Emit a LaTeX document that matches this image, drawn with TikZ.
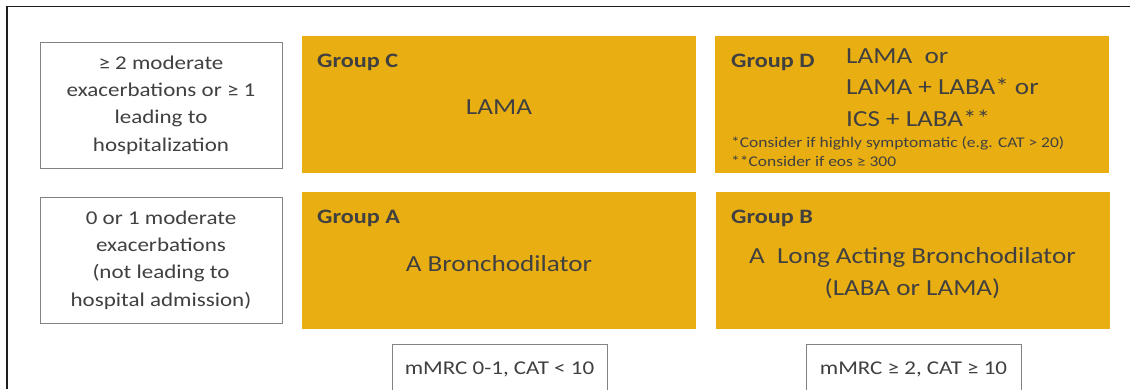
\documentclass[tikz,border=0pt]{standalone}
\usepackage{fontspec}
\setmainfont{Carlito}[FakeStretch=1.18]
\usepackage{tikz}
\usetikzlibrary{positioning}
\definecolor{grpclr}{RGB}{233,175,18}
\definecolor{txtclr}{RGB}{64,64,64}
\definecolor{boxclr}{RGB}{130,130,130}
\definecolor{frameclr}{RGB}{30,30,30}
\tikzset{
    crit/.style={rectangle,draw=boxclr,line width=0.9pt,fill=white,minimum width=242pt,minimum height=126pt,align=center,text=txtclr,inner sep=2pt,font=\fontsize{19.5}{27.3}\selectfont},
    grp/.style={rectangle,fill=grpclr,minimum width=394pt,minimum height=137pt,inner sep=0pt},
    grplbl/.style={anchor=base west,inner sep=0pt,text=txtclr,font=\fontsize{20.5}{24}\selectfont\bfseries},
    drug/.style={inner sep=0pt,text=txtclr,font=\fontsize{23}{31.5}\selectfont},
    note/.style={anchor=base west,inner sep=0pt,text=txtclr,font=\fontsize{14.8}{19}\selectfont},
    sympt/.style={rectangle,draw=boxclr,line width=0.9pt,fill=white,minimum width=215pt,minimum height=50pt,text=txtclr,font=\fontsize{19.5}{24}\selectfont},
}
\begin{document}
\begin{tikzpicture}[x=1pt,y=-1pt]
\useasboundingbox (0,0) rectangle (1130,389);
\clip (0,0) rectangle (1130,389);
% frame
\coordinate (FrTL) at (7,6.5);
\coordinate (FrTR) at (1130,6.5);
\coordinate (FrBL) at (7,389);
\draw[frameclr,line width=1.8pt] (FrTR) -- (FrTL) -- (FrBL);

% exacerbation history (column 1)
\node[crit] (Hi) at (161,105) {≥ 2 moderate\\exacerbations or ≥ 1\\leading to\\hospitalization};
\node[crit] (Lo) at (161,260) {0 or 1 moderate\\exacerbations\\(not leading to\\hospital admission)};

% groups
\node[grp] (C) at (499,104.5) {};
\node[grp] (D) at (912,104.5) {};
\node[grp] (A) at (499,260.5) {};
\node[grp] (B) at (912.5,260.5) {};

% group labels and treatments (base = last line)
\node[grplbl] (labC) at (317,67) {Group C};
\node[drug,anchor=base] (drugC) at (499,114) {LAMA};
\node[grplbl] (labD) at (731,67) {Group D};
\node[drug,anchor=base west,align=left] (drugD) at (846,126) {LAMA\ \ or\\LAMA + LABA* or\\ICS + LABA**};
\node[note] (noteD1) at (731,147) {*Consider if highly symptomatic (e.g. CAT > 20)};
\node[note] (noteD2) at (731,166) {**Consider if eos ≥ 300};
\node[grplbl] (labA) at (317,223) {Group A};
\node[drug,anchor=base] (drugA) at (499,271) {A Bronchodilator};
\node[grplbl] (labB) at (731,223) {Group B};
\node[drug,anchor=base,align=center] (drugB) at (912.5,295) {A\ \ Long Acting Bronchodilator\\(LABA or LAMA)};

% symptoms (bottom row)
\node[sympt] (symLo) at (499.5,369) {mMRC 0-1, CAT < 10};
\node[sympt] (symHi) at (913.5,369) {mMRC ≥ 2, CAT ≥ 10};
\end{tikzpicture}
\end{document}
